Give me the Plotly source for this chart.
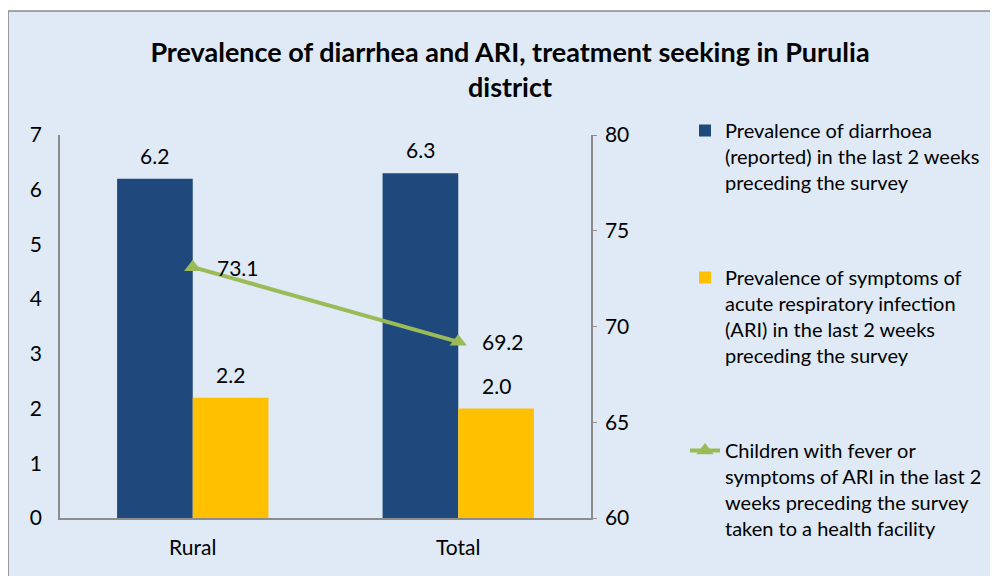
import plotly.graph_objects as go

categories = ["Rural", "Total"]
diarrhoea = [6.2, 6.3]
ari = [2.2, 2.0]
health_facility = [73.1, 69.2]

FONT = "Lato"
W, H = 990, 568          # page body has an 8px margin
L, R, T, B = 52, 406, 127, 58
PW, PH = W - L - R, H - T - B
LABEL = dict(size=21, color="#000", family=FONT)

fig = go.Figure()
fig.add_trace(go.Bar(
    x=categories, y=diarrhoea, name="Prevalence of diarrhoea<br>(reported) in the last 2 weeks<br>preceding the survey",
    marker=dict(color="#1F497D", line=dict(width=0)), legendgroup="a"))
fig.add_trace(go.Bar(
    x=categories, y=ari, name="Prevalence of symptoms of<br>acute respiratory infection<br>(ARI) in the last 2 weeks<br>preceding the survey",
    marker=dict(color="#FFC000", line=dict(width=0)), legendgroup="b"))
fig.add_trace(go.Scatter(
    x=categories, y=health_facility, yaxis="y2", mode="lines+markers",
    name="Children with fever or<br>symptoms of ARI in the last 2<br>weeks preceding the survey<br>taken to a health facility",
    line=dict(color="#9BBB59", width=4), marker=dict(symbol="triangle-up", size=15, color="#9BBB59"),
    cliponaxis=False, legendgroup="c"))

annotations = []
half = PW / len(categories) * (1 - 0.43) / 4
for cat, v in zip(categories, diarrhoea):
    annotations.append(dict(x=cat, y=v, xref="x", yref="y", text=f"{v:.1f}", showarrow=False,
                            yanchor="bottom", yshift=9, xshift=-half, font=LABEL))
for cat, v in zip(categories, ari):
    annotations.append(dict(x=cat, y=v, xref="x", yref="y", text=f"{v:.1f}", showarrow=False,
                            yanchor="bottom", yshift=9, xshift=half, font=LABEL))
for cat, v in zip(categories, health_facility):
    annotations.append(dict(x=cat, y=v, xref="x", yref="y2", text=f"{v:.1f}", showarrow=False,
                            xanchor="left", yanchor="middle", xshift=22, font=LABEL))

fig.update_layout(
    width=W, height=H,
    paper_bgcolor="white", plot_bgcolor="rgba(0,0,0,0)",
    font=dict(family=FONT, color="#000", size=21),
    title=dict(text="<b>Prevalence of diarrhea and ARI, treatment seeking in Purulia<br>district</b>",
               x=502 / W, xanchor="center", yref="container", y=1 - 54 / H, yanchor="middle",
               font=dict(size=27, family=FONT)),
    margin=dict(l=L, r=R, t=T, b=B),
    barmode="group", bargap=0.43, bargroupgap=0,
    xaxis=dict(showline=True, linecolor="#8c8c8c", linewidth=1.5, ticks="", tickfont=dict(size=21),
               ticklabelstandoff=10),
    yaxis=dict(range=[0, 7], dtick=1, showgrid=False, showline=True, linecolor="#8c8c8c", linewidth=1.5,
               zeroline=False, ticks="", ticklen=0, tickfont=dict(size=21), ticklabelstandoff=12),
    yaxis2=dict(range=[60, 80], dtick=5, overlaying="y", side="right", showgrid=False, showline=True,
                linecolor="#8c8c8c", linewidth=1.5, ticks="outside", ticklen=4, tickcolor="#8c8c8c",
                zeroline=False, tickfont=dict(size=21), ticklabelstandoff=4),
    legend=dict(x=(677 - L) / PW, xanchor="left", y=1 + 24 / PH, yanchor="top", bgcolor="rgba(0,0,0,0)",
                font=dict(size=20, family=FONT), tracegroupgap=66, valign="top", traceorder="grouped",
                maxheight=560),
    annotations=annotations,
    shapes=[dict(type="rect", xref="paper", yref="paper", layer="below",
                 x0=-L / PW, x1=(W + 20 - L) / PW, y0=-0.3, y1=(PH + T - 3) / PH,
                 line=dict(color="#8c8c8c", width=1.5), fillcolor="#dfeaf6")],
)
fig.write_html("out.html")
